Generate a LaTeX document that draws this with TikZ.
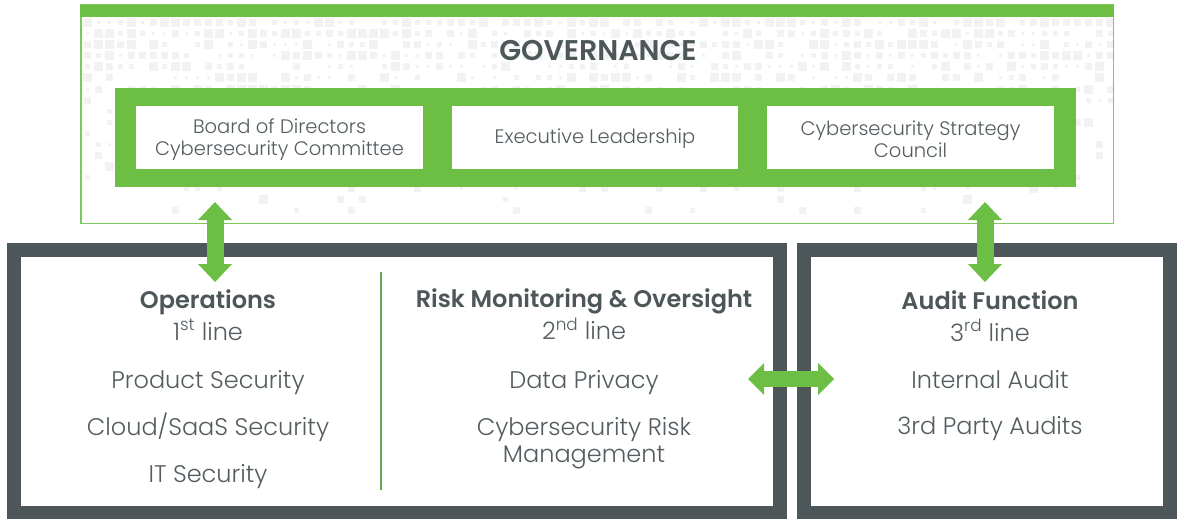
\documentclass[tikz,border=0pt]{standalone}
\usepackage{fontspec}
\setmainfont{Poppins}[UprightFont={* Light},BoldFont={* SemiBold}]
\usetikzlibrary{arrows.meta}
\definecolor{grn}{HTML}{6CBE45}
\definecolor{grnline}{HTML}{7DC95C}
\definecolor{divider}{HTML}{5FA84F}
\definecolor{slate}{HTML}{4D5759}
\definecolor{txt}{HTML}{535C5F}
\definecolor{dots}{HTML}{F2F2F2}
\tikzset{
  govbox/.style={fill=white, minimum width=287pt, minimum height=63pt, inner sep=0pt},
  govtext/.style={align=center, text=txt, font=\fontsize{19.5}{22.5}\selectfont, inner sep=0pt},
  linebox/.style={draw=slate, line width=14pt},
  heading/.style={text=slate, font=\bfseries\fontsize{24}{28}\selectfont, inner sep=0pt, anchor=base},
  subline/.style={text=txt, font=\fontsize{24}{28}\selectfont, inner sep=0pt, anchor=base},
  item/.style={text=txt, font=\fontsize{24}{27}\selectfont, inner sep=0pt, anchor=base},
  vbiarrow/.style={draw=grn, line width=17pt,
    {Triangle[length=18pt 0 0,width=34pt 0 0,line width=0pt]}-{Triangle[length=18pt 0 0,width=34pt 0 0,line width=0pt]}},
  hbiarrow/.style={draw=grn, line width=16pt,
    {Triangle[length=16pt 0 0,width=32pt 0 0,line width=0pt]}-{Triangle[length=16pt 0 0,width=32pt 0 0,line width=0pt]}},
}
\begin{document}
\begin{tikzpicture}[x=1pt,y=-1pt]
\useasboundingbox (0,0) rectangle (1178,519);
\fill[white] (0,0) rectangle (1178,519);

% faint square texture behind the governance panel
\begin{scope}
\clip (81,17) rectangle (1113,223);
\pgfmathsetseed{11}
\foreach \i in {0,...,93} {
  \foreach \j in {0,...,18} {
    \pgfmathsetmacro\cx{87+11*\i}
    \pgfmathsetmacro\cy{23+11*\j}
    \pgfmathsetmacro\p{0.92-0.05*\j}
    \pgfmathsetmacro\r{rnd}
    \pgfmathsetmacro\s{1.5+random(0,3)}
    \ifdim\r pt<\p pt
      \fill[dots] (\cx-\s,\cy-\s) rectangle (\cx+\s,\cy+\s);
    \fi
  }
}
\end{scope}

% governance panel
\draw[grnline, line width=1.5pt] (80.75,5) rectangle (1113.25,223.25);
\fill[grn] (80,5) rectangle (1114,17);
\node[heading, font=\bfseries\fontsize{28.5}{32}\selectfont] (gov) at (598,61) {GOVERNANCE};

\fill[grn] (115,88) rectangle (1076,187);
\node[govbox] (board) at (279.5,137.5) {};
\node[govbox, minimum width=286pt] (exec) at (595,137.5) {};
\node[govbox] (council) at (910.5,137.5) {};
\node[govtext] (boardtxt) at ([yshift=-2pt]board.center) {Board of Directors\\Cybersecurity Committee};
\node[govtext] (exectxt) at ([yshift=-1pt]exec.center) {Executive Leadership};
\node[govtext] (counciltxt) at ([yshift=-2pt]council.center) {Cybersecurity Strategy\\Council};

% lines of defence panels
\draw[linebox] (14,250) rectangle (779.5,513);
\draw[linebox] (803.5,250) rectangle (1170,513);
\draw[divider, line width=1.6pt] (381,272) -- (381,490);

% first line
\node[heading] (ops) at (208,308) {Operations};
\node[subline] (l1) at (208,340) {1\textsuperscript{st} line};
\node[item] (prod) at (208,388) {Product Security};
\node[item] (cloud) at (208,435) {Cloud/SaaS Security};
\node[item] (itsec) at (208,482) {IT Security};

% second line
\node[heading] (risk) at (584,307.5) {Risk Monitoring \& Oversight};
\node[subline] (l2) at (584,339.5) {2\textsuperscript{nd} line};
\node[item] (privacy) at (584,388) {Data Privacy};
\node[item] (crm1) at (584,435) {Cybersecurity Risk};
\node[item] (crm2) at (584,462) {Management};

% third line
\node[heading] (audit) at (990,309) {Audit Function};
\node[subline] (l3) at (990,341) {3\textsuperscript{rd} line};
\node[item] (internal) at (990,388) {Internal Audit};
\node[item] (party) at (990,434) {3rd Party Audits};

% two-way links
\coordinate (upL) at (215,202);
\coordinate (downL) at (215,282);
\coordinate (upR) at (985,202);
\coordinate (downR) at (985,282);
\coordinate (leftM) at (748,379);
\coordinate (rightM) at (834,379);
\draw[vbiarrow] (upL) -- (downL);
\draw[vbiarrow] (upR) -- (downR);
\draw[hbiarrow] (leftM) -- (rightM);
\end{tikzpicture}
\end{document}
